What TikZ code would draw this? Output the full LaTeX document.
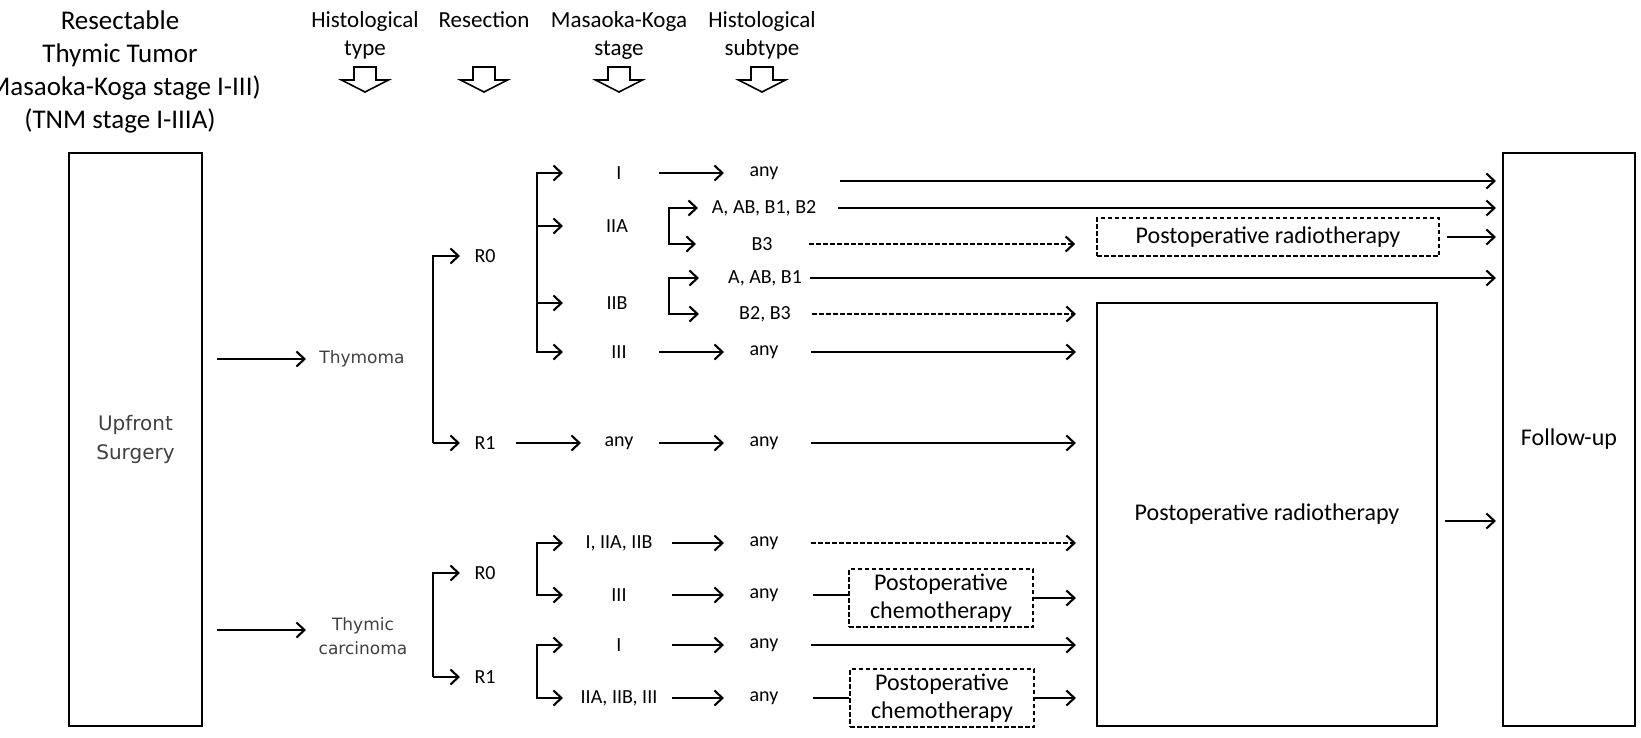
\documentclass[tikz,border=0pt]{standalone}
\usepackage{fontspec}
\setmainfont{Carlito}
\newfontfamily\dvsans{DejaVu Sans}
\usetikzlibrary{arrows.meta}

\tikzset{
  arr/.style={line width=2.1pt, -{Straight Barb[length=8pt,width=15pt]}},
  darr/.style={arr, dash pattern=on 4.5pt off 2.5pt},
  lab/.style={inner sep=0pt, font=\fontsize{20}{24}\selectfont},
  grey/.style={inner sep=0pt, align=center, text=black!75, font=\dvsans\fontsize{17}{24}\selectfont},
  box/.style={draw, line width=2.1pt, inner sep=0pt, align=center, font=\fontsize{24}{28}\selectfont},
  dbox/.style={box, line width=1.6pt, dash pattern=on 4.5pt off 2.5pt},
  head/.style={inner sep=0pt, anchor=north, align=center, font=\fontsize{23}{28}\selectfont},
}

\begin{document}
\begin{tikzpicture}[x=1pt, y=-1pt]
\useasboundingbox (0,0) rectangle (1641,737);

\node[head, font=\fontsize{27}{33}\selectfont] (tumor) at (120,11) {Resectable\\Thymic Tumor\\(Masaoka-Koga stage I-III)\\(TNM stage I-IIIA)};
\node[head] (hType) at (365,11) {Histological\\type};
\node[head] (hRes) at (484,11) {Resection};
\node[head] (hStage) at (619,11) {Masaoka-Koga\\stage};
\node[head] (hSub) at (762,11) {Histological\\subtype};
\coordinate (hrow) at (0,67);
\foreach \h in {hType,hRes,hStage,hSub}
  \draw[line width=1.6pt] (\h |- hrow) ++(-11,0) -- ++(0,13) -- ++(-12.5,0) -- ++(23.5,12)
    -- ++(23.5,-12) -- ++(-12.5,0) -- ++(0,-13) -- cycle;

\node[box, minimum width=133pt, minimum height=573pt, text=black!75, font=\dvsans\fontsize{20}{29}\selectfont] (surg) at (135.5,439.5) {Upfront\\Surgery};
\node[box, minimum width=132pt, minimum height=573pt] (fu) at (1569,439.5) {Follow-up};
\node[box, minimum width=340pt, minimum height=423pt] (prt) at (1267,514.5) {Postoperative radiotherapy};
\node[dbox, minimum width=342pt, minimum height=38pt] (prtB3) at (1268,237) {Postoperative radiotherapy};
\node[dbox, minimum width=184pt, minimum height=58pt] (pct1) at (941,598) {Postoperative\\chemotherapy};
\node[dbox, minimum width=184pt, minimum height=58pt] (pct2) at (942,698) {Postoperative\\chemotherapy};

\node[grey] (thy) at (362,359) {Thymoma};
\node[grey] (tca) at (363,636) {Thymic\\carcinoma};

\foreach \n/\x/\y/\t in {r0a/485/256/R0, r1a/485/443/R1, r0b/485/573/R0, r1b/485/677/R1,
    sI/619/173/I, sIIA/617/226/IIA, sIIB/617/303/IIB, sIII/619/352/III, sR1/619/443/any,
    cI/619/543/{I, IIA, IIB}, cIII/619/595/III, dI/619/645/I, dII/619/698/{IIA, IIB, III},
    aI/764/173/any, aA/764/208/{A, AB, B1, B2}, aB3/762/244/B3, bA/765/278/{A, AB, B1},
    bB/765/314/{B2, B3}, aIII/764/352/any, aR1/764/443/any,
    cA/764/543/any, cB/764/595/any, dA/764/645/any, dB/764/698/any}
  \node[lab] (\n) at (\x,\y) {\t};

\coordinate (spR) at (433,0);
\coordinate (spS) at (537,0);
\coordinate (spH) at (669,0);
\coordinate (tcaIn) at ([yshift=6pt]tca.center);
\coordinate (aIout) at ([yshift=-8pt]aI.center);
\coordinate (prtOut) at ([yshift=-6.5pt]prt.east);

\draw[arr, shorten <=14pt, shorten >=56pt] (surg.east |- thy) -- (thy.center);
\draw[arr, shorten <=14pt, shorten >=57pt] (surg.east |- tcaIn) -- (tcaIn);

\foreach \a/\b in {r0a/r1a, r0b/r1b} {
  \draw[arr, shorten >=25pt] (\b -| spR) |- (\a.center);
  \draw[arr, shorten >=25pt] (\b -| spR) -- (\b.center);
}
\foreach \a/\b in {sI/sIII, cI/cIII, dI/dII} {
  \draw[arr, shorten >=56pt] (\b -| spS) |- (\a.center);
  \draw[arr, shorten >=56pt] (\a -| spS) |- (\b.center);
}
\foreach \n in {sIIA,sIIB} \draw[arr, shorten >=54pt] (\n -| spS) -- (\n.center);
\foreach \a/\b in {aA/aB3, bA/bB} {
  \draw[arr, shorten >=66pt] (\b -| spH) |- (\a.center);
  \draw[arr, shorten >=66pt] (\a -| spH) |- (\b.center);
}

\draw[arr, shorten <=31pt, shorten >=38pt] (r1a.center) -- (sR1.center);
\foreach \a/\b in {sI/aI, sIII/aIII, sR1/aR1}
  \draw[arr, shorten <=40pt, shorten >=40pt] (\a.center) -- (\b.center);
\foreach \a/\b in {cI/cA, cIII/cB, dI/dA, dII/dB}
  \draw[arr, shorten <=53pt, shorten >=40pt] (\a.center) -- (\b.center);

\draw[arr, shorten <=76pt, shorten >=6pt] (aIout) -- (aIout -| fu.west);
\draw[arr, shorten <=74pt, shorten >=6pt] (aA.center) -- (aA -| fu.west);
\draw[arr, shorten <=45pt, shorten >=6pt] (bA.center) -- (bA -| fu.west);
\draw[arr, shorten <=7pt, shorten >=6pt] (prtB3.east) -- (prtB3 -| fu.west);
\draw[arr, shorten <=7pt, shorten >=6pt] (prtOut) -- (prtOut -| fu.west);

\draw[darr, shorten <=47pt, shorten >=21pt] (aB3.center) -- (aB3 -| prtB3.west);
\foreach \n in {bB, cA}
  \draw[darr, shorten <=47pt, shorten >=20pt] (\n.center) -- (\n -| prt.west);
\foreach \n in {aIII, aR1, dA}
  \draw[arr, shorten <=47pt, shorten >=20pt] (\n.center) -- (\n -| prt.west);
\foreach \n/\c in {cB/pct1, dB/pct2} {
  \draw[line width=2.1pt, shorten <=49pt] (\n.center) -- (\n -| \c.west);
  \draw[arr, shorten >=20pt] (\c.east) -- (\c -| prt.west);
}
\end{tikzpicture}
\end{document}
